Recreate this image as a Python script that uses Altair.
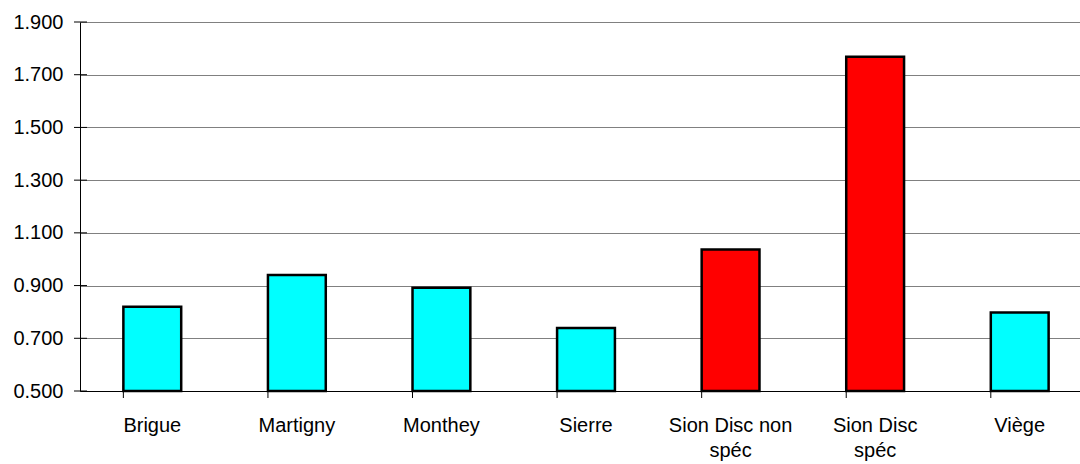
import altair as alt
import pandas as pd

# Values per site
sites = ["Brigue", "Martigny", "Monthey", "Sierre",
         "Sion Disc non spéc", "Sion Disc spéc", "Viège"]
values = [0.820, 0.940, 0.892, 0.739, 1.037, 1.768, 0.798]
colors = ["#00FFFF", "#00FFFF", "#00FFFF", "#00FFFF",
          "#FF0000", "#FF0000", "#00FFFF"]
axis_min = 0.5
axis_max = 1.9
tick_values = [0.5, 0.7, 0.9, 1.1, 1.3, 1.5, 1.7, 1.9]

df = pd.DataFrame({"site": sites, "value": values, "color": colors,
                   "base": [axis_min] * len(sites)})
ticks_df = pd.DataFrame({"tick": tick_values})

font = "Liberation Sans"

x_scale = alt.Scale(paddingInner=0.6, paddingOuter=0.3, range=[0, 1012])
x_enc = alt.X("site:N", sort=sites, title=None,
              # the category band runs a little past the right edge of the view
              scale=x_scale,
              axis=alt.Axis(labelAngle=0, ticks=False,
                            domainColor="black",
                            labelFont=font, labelFontSize=20, labelColor="black",
                            labelPadding=24, labelLineHeight=25,
                            labelBaseline="top",
                            labelExpr="datum.label == 'Sion Disc non spéc' ? ['Sion Disc non', 'spéc'] : datum.label == 'Sion Disc spéc' ? ['Sion Disc', 'spéc'] : datum.label"))
y_scale = alt.Scale(domain=[axis_min, axis_max], zero=False, nice=False)

bars = alt.Chart(df).mark_bar(stroke="black", strokeWidth=2.5).encode(
    x=x_enc,
    y=alt.Y("value:Q", title=None, scale=y_scale,
            axis=alt.Axis(values=tick_values, format=".3f", grid=True,
                          gridColor="#808080", gridWidth=1.2,
                          ticks=False, domainColor="black",
                          labelFont=font, labelFontSize=20, labelColor="black",
                          labelPadding=17)),
    y2="base:Q",
    color=alt.Color("color:N", scale=None),
)

# cross-style tick marks on the category axis, at the left edge of each band
x_ticks = alt.Chart(df).mark_rule(color="black", strokeWidth=1,
                                  yOffset=-6, y2Offset=7).encode(
    x=alt.X("site:N", sort=sites, bandPosition=0),
    y=alt.Y("base:Q", scale=y_scale),
    y2="base:Q",
)

# cross-style tick marks on the value axis
y_ticks = alt.Chart(ticks_df).mark_rule(color="black", strokeWidth=1,
                                        xOffset=-6, x2Offset=7).encode(
    x=alt.value(0),
    x2=alt.value(0),
    y=alt.Y("tick:Q", scale=y_scale),
)

chart = alt.layer(bars, x_ticks, y_ticks).properties(
    width=1000, height=369,
    autosize=alt.AutoSizeParams(type="none"),
    padding={"left": 80, "top": 22, "right": 0, "bottom": 73},
).configure_view(stroke=None).configure(background="white")

chart.save("out.html", embed_options={"renderer": "svg", "actions": False})
